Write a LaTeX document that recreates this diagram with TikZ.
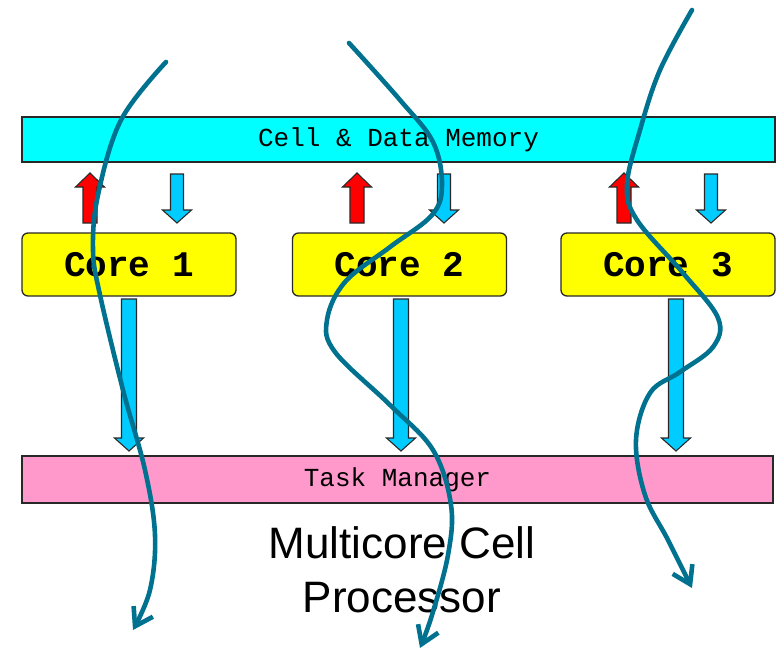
\documentclass[tikz,border=0pt]{standalone}
\usepackage{fontspec}
\setmainfont{Liberation Sans}
\newfontfamily\monof{Liberation Mono}
\usetikzlibrary{arrows.meta}
\definecolor{memcyan}{RGB}{0,255,255}
\definecolor{coreyellow}{RGB}{255,255,0}
\definecolor{taskpink}{RGB}{255,153,204}
\definecolor{arrblue}{RGB}{0,204,255}
\definecolor{arrred}{RGB}{255,0,0}
\definecolor{teal}{RGB}{0,114,143}
\definecolor{edge}{RGB}{40,40,40}
\newcommand\blkarrow[7]{%
  \draw[#1] ({#2-#6},#3) -- ({#2+#6},#3) -- ({#2+#6},#4) -- ({#2+#7},#4) -- (#2,#5)
    -- ({#2-#7},#4) -- ({#2-#6},#4) -- cycle;}
\begin{document}
\begin{tikzpicture}[x=1pt,y=-1pt,
  bar/.style={draw=edge,line width=1.3pt,inner sep=0pt},
  corebox/.style={draw=edge,line width=1.3pt,fill=coreyellow,rounded corners=6pt,
    minimum width=214pt,minimum height=63pt,inner sep=0pt,
    font=\monof\bfseries\fontsize{36}{40}\selectfont},
  bluearr/.style={draw=edge,line width=1.1pt,fill=arrblue},
  redarr/.style={draw=edge,line width=1.1pt,fill=arrred},
  wiggle/.style={draw=teal,line width=4.6pt,line cap=round,
    -{Straight Barb[length=17pt,width=22pt,line width=4.6pt]}}]
\useasboundingbox (0,0) rectangle (777,651);
\fill[white] (0,0) rectangle (777,651);
% bars
\node[bar,fill=memcyan,minimum width=753pt,minimum height=45pt,
  font=\monof\fontsize{26}{30}\selectfont] (mem) at (398.5,139.5) {\raisebox{-2pt}{Cell \& Data Memory}};
\node[bar,fill=taskpink,minimum width=751pt,minimum height=47pt,
  font=\monof\fontsize{26}{30}\selectfont] (task) at (397.5,479.5) {Task Manager};
% cores
\node[corebox] (c1) at (129,264.5) {Core 1};
\node[corebox] (c2) at (399.5,264.5) {Core 2};
\node[corebox] (c3) at (668,264.5) {Core 3};
% red up arrows
\blkarrow{redarr}{90}{223}{187}{173}{7}{14.5}
\blkarrow{redarr}{357}{223}{187}{173}{7}{14.5}
\blkarrow{redarr}{624}{223}{187}{173}{7}{14.5}
% small blue down arrows
\blkarrow{bluearr}{177}{174}{210}{223}{6.5}{14.5}
\blkarrow{bluearr}{444}{174}{210}{223}{6.5}{14.5}
\blkarrow{bluearr}{711}{174}{210}{223}{6.5}{14.5}
% long blue down arrows
\blkarrow{bluearr}{129}{299}{438}{451}{7.5}{14.5}
\blkarrow{bluearr}{401}{299}{438}{451}{7.5}{14.5}
\blkarrow{bluearr}{676}{299}{438}{451}{7.5}{14.5}
% caption
\node[anchor=north,align=center,inner sep=0pt,
  font=\fontsize{44}{54}\selectfont] (cap) at (402,526.5) {Multicore Cell\\Processor};
% wiggly arrows
\draw[wiggle] plot[smooth,tension=0.6] coordinates {(166,62) (121,120) (98,195) (93,250)
  (100,295) (123,390) (145,470) (155,535) (150,590) (133,630)};
\draw[wiggle] plot[smooth,tension=0.6] coordinates {(349,43) (400,100) (433,142) (442,185)
  (432,215) (390,247) (345,282) (327,320) (335,352) (390,405) (433,450) (451,505)
  (448,555) (432,615) (420,648)};
\draw[wiggle] plot[smooth,tension=0.6] coordinates {(692,10) (660,70) (640,130) (627,185)
  (637,220) (683,273) (718,318) (713,347) (680,372) (650,393) (636,440) (645,495)
  (668,540) (692,588)};
\end{tikzpicture}
\end{document}
